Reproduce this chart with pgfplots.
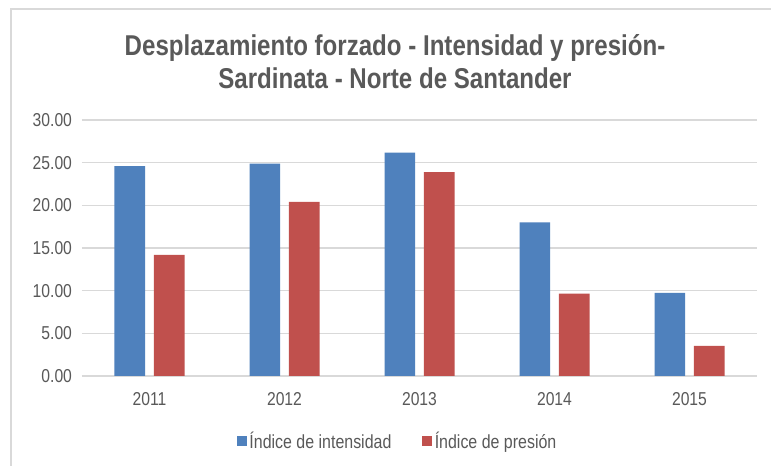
\documentclass[border=0pt]{standalone}
\usepackage{fontspec}
\setmainfont[FakeStretch=0.84]{Liberation Sans}
\usepackage{pgfplots}
\pgfplotsset{compat=1.18}
\definecolor{cblue}{HTML}{4F81BD}
\definecolor{cred}{HTML}{C0504D}
\definecolor{ctext}{HTML}{595959}
\definecolor{cgrid}{HTML}{D9D9D9}
\begin{document}
\begin{tikzpicture}[x=0.75pt,y=0.75pt]
\useasboundingbox[fill=white] (0,0) rectangle (771,466);
\draw[cgrid,line width=1.2pt] (11,0) -- (11,457) -- (771,457);
\node[align=center,text=ctext,font=\fontsize{21.5pt}{24.75pt}\selectfont\bfseries] at (395,404)
  {Desplazamiento forzado - Intensidad y presión-\\Sardinata - Norte de Santander};
\begin{axis}[
  at={(61.5pt,67.5pt)}, anchor=south west,
  scale only axis, width=506.25pt, height=192pt,
  ybar=6.5pt, bar width=23pt,
  xmin=-0.5, xmax=4.5, ymin=0, ymax=30,
  xtick=data, xticklabels={2011,2012,2013,2014,2015},
  ytick={0,5,...,30},
  ymajorgrids, grid style={cgrid,line width=0.9pt},
  axis line style={draw=none},
  axis x line*=bottom,
  x axis line style={cgrid,line width=0.9pt},
  major tick length=0pt,
  tick label style={text=ctext,font=\fontsize{14pt}{16pt}\selectfont},
  yticklabel style={xshift=-4pt},
  xticklabel style={yshift=-9pt},
  /pgf/number format/.cd, fixed, fixed zerofill, precision=2, assume math mode=true,
  /pgfplots/.cd,
  legend style={at={(0.468,-0.254)}, anchor=center, draw=none, fill=none,
    font=\fontsize{14.25pt}{16pt}\selectfont, text=ctext, legend columns=2,
    /tikz/every even column/.append style={column sep=21pt}},
  legend cell align=left,
  legend image code/.code={\fill[#1] (0pt,-3.75pt) rectangle (7.5pt,3.75pt);},
]
\addplot[fill=cblue,draw=none] coordinates {(0,24.6) (1,24.88) (2,26.17) (3,18.0) (4,9.73)};
\addplot[fill=cred,draw=none] coordinates {(0,14.18) (1,20.39) (2,23.9) (3,9.65) (4,3.52)};
\legend{Índice de intensidad,Índice de presión}
\end{axis}
\end{tikzpicture}
\end{document}
